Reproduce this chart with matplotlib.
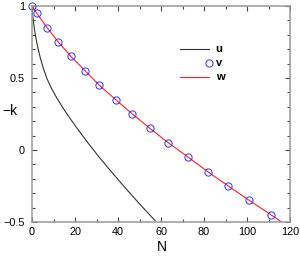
import matplotlib
matplotlib.use("Agg")
import matplotlib.pyplot as plt
from matplotlib.ticker import MultipleLocator

plt.rcParams["font.family"] = ["Liberation Sans", "DejaVu Sans"]

# u : black curve
u_n = [0, 0.3, 0.6, 1.2, 1.9, 2.8, 4.0, 5.5, 7.0, 9.0, 11.5, 14.5, 18.0,
       21.5, 26.0, 31.0, 36.0, 41.0, 46.0, 51.0, 57.3]
u_k = [1.0, 0.94, 0.898, 0.832, 0.769, 0.704, 0.632, 0.557, 0.494, 0.43,
       0.362, 0.29, 0.213, 0.14, 0.05, -0.045, -0.135, -0.222, -0.307,
       -0.39, -0.491]

# v : blue circles
v_n = [0, 2.2, 7.0, 12.2, 18.1, 24.7, 31.3, 38.9, 46.7, 54.9, 63.4, 72.7,
       81.7, 91.3, 101.1, 111.2]
v_k = [1.0, 0.95, 0.85, 0.75, 0.65, 0.55, 0.45, 0.35, 0.25, 0.15, 0.05,
       -0.05, -0.15, -0.25, -0.35, -0.45]

# w : red line
w_n = [0, 2.2, 7.0, 12.2, 18.1, 24.7, 31.3, 38.9, 46.7, 54.9, 63.4, 72.7,
       81.7, 91.3, 101.1, 111.2, 116.1]
w_k = [1.0, 0.95, 0.85, 0.75, 0.65, 0.55, 0.45, 0.35, 0.25, 0.15, 0.05,
       -0.05, -0.15, -0.25, -0.35, -0.45, -0.5]

x_ticks = [0, 20, 40, 60, 80, 100, 120]
y_ticks = [-0.5, 0, 0.5, 1]
y_ticklabels = ["\u22120.5", "0", "0.5", "1"]

fig = plt.figure(figsize=(3.0, 2.6), dpi=100)
ax = fig.add_axes([0.1067, 0.146, 0.86, 0.831])

ax.plot(u_n, u_k, color="#333333", lw=0.8)
ax.plot(w_n, w_k, color="#ff2020", lw=0.8)
ax.plot(v_n, v_k, ls="none", marker="o", ms=5.2, mfc="none", mec="#3030ff",
        mew=0.7, clip_on=False)

ax.set_xlim(0, 120)
ax.set_ylim(-0.5, 1)
ax.set_xticks(x_ticks)
ax.set_yticks(y_ticks)
ax.set_yticklabels(y_ticklabels)
ax.xaxis.set_minor_locator(MultipleLocator(10))
ax.yaxis.set_minor_locator(MultipleLocator(0.1))
ax.tick_params(which="both", direction="in", top=True, right=True,
               color="#444444", width=0.8, labelsize=7.8)
ax.tick_params(which="major", length=3.5)
ax.tick_params(which="minor", length=2.5)
ax.tick_params(axis="y", pad=5)
ax.tick_params(axis="x", pad=3.5)
for s in ax.spines.values():
    s.set_color("#999999")
    s.set_linewidth(1.1)

ax.text(-0.085, 0.514, "\u2212k", transform=ax.transAxes, fontsize=10,
        ha="center", va="center")
ax.text(0.504, -0.116, "N", transform=ax.transAxes, fontsize=10,
        ha="center", va="center")

# legend drawn by hand (marker sits at right end of the sample)
ax.plot([0.574, 0.686], [0.801, 0.801], transform=ax.transAxes,
        color="#333333", lw=0.8)
ax.plot([0.686], [0.736], transform=ax.transAxes, ls="none", marker="o",
        ms=5.2, mfc="none", mec="#3030ff", mew=0.7)
ax.plot([0.574, 0.686], [0.671, 0.671], transform=ax.transAxes,
        color="#ff2020", lw=0.8)
for yy, lab in zip([0.801, 0.736, 0.671], ["u", "v", "w"]):
    ax.text(0.712, yy, lab, transform=ax.transAxes, fontsize=8,
            fontweight="bold", ha="left", va="center")

fig.savefig("out.png", dpi=100)
